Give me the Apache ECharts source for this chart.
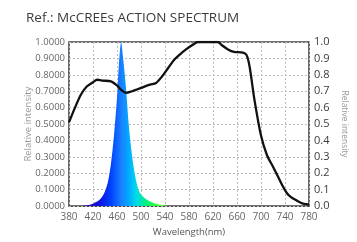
<!DOCTYPE html>
<html><head><meta charset="utf-8">
<script src="https://cdn.jsdelivr.net/npm/echarts@6/dist/echarts.min.js"></script>
<style>html,body{margin:0;padding:0;background:#fff}#c{width:357px;height:242px}</style>
</head><body><div id="c"></div>
<script>
const titleText = 'Ref.: McCREEs ACTION SPECTRUM';
const xTicks = [380, 420, 460, 500, 540, 580, 620, 660, 700, 740, 780];
// McCree action spectrum (black line)
const mccreeWl = [380,390,400,410,420,427,435,450,460,468,475,485,500,515,525,535,545,555,565,575,585,595,610,628,635,645,655,670,676,681,689,700,710,720,727,735,743,750,759,770,780];
const mccreeVal = [0.51,0.60,0.68,0.73,0.755,0.77,0.765,0.76,0.735,0.705,0.69,0.70,0.72,0.74,0.75,0.79,0.84,0.89,0.925,0.955,0.98,1.0,1.0,1.0,0.98,0.955,0.94,0.935,0.92,0.85,0.65,0.43,0.31,0.24,0.19,0.13,0.08,0.055,0.035,0.015,0.01];
// LED spectrum (coloured spike)
const ledWl = [400,410,420,430,435,440,445,450,455,460,463,467,470,475,480,485,490,495,500,510,520,530,540,550];
const ledVal = [0,0.005,0.015,0.035,0.055,0.09,0.15,0.26,0.43,0.66,0.85,1.0,0.91,0.72,0.48,0.31,0.19,0.11,0.07,0.038,0.02,0.01,0.004,0];

const pair = (xs, ys) => xs.map((x, i) => [x, ys[i]]);
const chart = echarts.init(document.getElementById('c'), null, {renderer: 'canvas'});
const grad = new echarts.graphic.LinearGradient(0, 0, 1, 0, [
  {offset: 0, color: '#3a00b0'},
  {offset: 0.2, color: '#1010e0'},
  {offset: 0.33, color: '#0040ff'},
  {offset: 0.45, color: '#1a80ff'},
  {offset: 0.53, color: '#00aaff'},
  {offset: 0.62, color: '#00dde8'},
  {offset: 0.72, color: '#00f080'},
  {offset: 0.85, color: '#40ff30'},
  {offset: 1, color: '#60ff20'}
]);
chart.setOption({
  animation: false,
  title: {text: titleText, left: 21, top: 6, textStyle: {fontFamily: 'Open Sans', fontSize: 13.5, fontWeight: 500, color: '#3a3a3a'}},
  grid: {left: 69, right: 41, top: 42, bottom: 28, show: true, borderColor: '#444', borderWidth: 1.6, backgroundColor: 'transparent'},
  xAxis: {
    type: 'value', min: 380, max: 780, interval: 40,
    name: 'Wavelength(nm)', nameLocation: 'middle', nameGap: 19,
    nameTextStyle: {fontFamily: 'Open Sans', fontSize: 9.5, color: '#555'},
    axisLine: {show: false}, axisTick: {show: false},
    axisLabel: {fontFamily: 'Open Sans', fontSize: 10, color: '#666', margin: 6, formatter: v => xTicks.includes(v) ? String(v) : ''},
    splitLine: {show: true, lineStyle: {color: '#bbb', type: [2, 2], width: 1}}
  },
  yAxis: [{
    type: 'value', min: 0, max: 1, interval: 0.1, position: 'left',
    name: 'Relative intensity', nameLocation: 'middle', nameGap: 36, nameMoveOverlap: false,
    nameTextStyle: {fontFamily: 'Open Sans', fontSize: 9.5, color: '#999'},
    axisLine: {show: false}, axisTick: {show: false},
    axisLabel: {fontFamily: 'Open Sans', fontSize: 9.5, color: '#666', margin: 4, formatter: v => v.toFixed(4)},
    splitLine: {show: true, lineStyle: {color: '#bbb', type: [2, 2], width: 1}}
  }, {
    type: 'value', min: 0, max: 1, interval: 0.1, position: 'right',
    name: 'Relative intensity', nameLocation: 'middle', nameGap: 31, nameRotate: -90, nameMoveOverlap: false,
    nameTextStyle: {fontFamily: 'Open Sans', fontSize: 8.5, color: '#999'},
    axisLine: {show: false}, axisTick: {show: false},
    axisLabel: {fontFamily: 'Open Sans', fontSize: 11, color: '#3a3a3a', margin: 5, formatter: v => v.toFixed(1)},
    splitLine: {show: false}
  }],
  series: [{
    type: 'line', data: pair(ledWl, ledVal), smooth: 0.3, symbol: 'none',
    lineStyle: {width: 0}, areaStyle: {color: grad, opacity: 1}, z: 2
  }, {
    type: 'line', data: pair(mccreeWl, mccreeVal), smooth: 0.3, symbol: 'none',
    lineStyle: {color: '#111', width: 2.3}, z: 3
  }]
});
</script></body></html>
